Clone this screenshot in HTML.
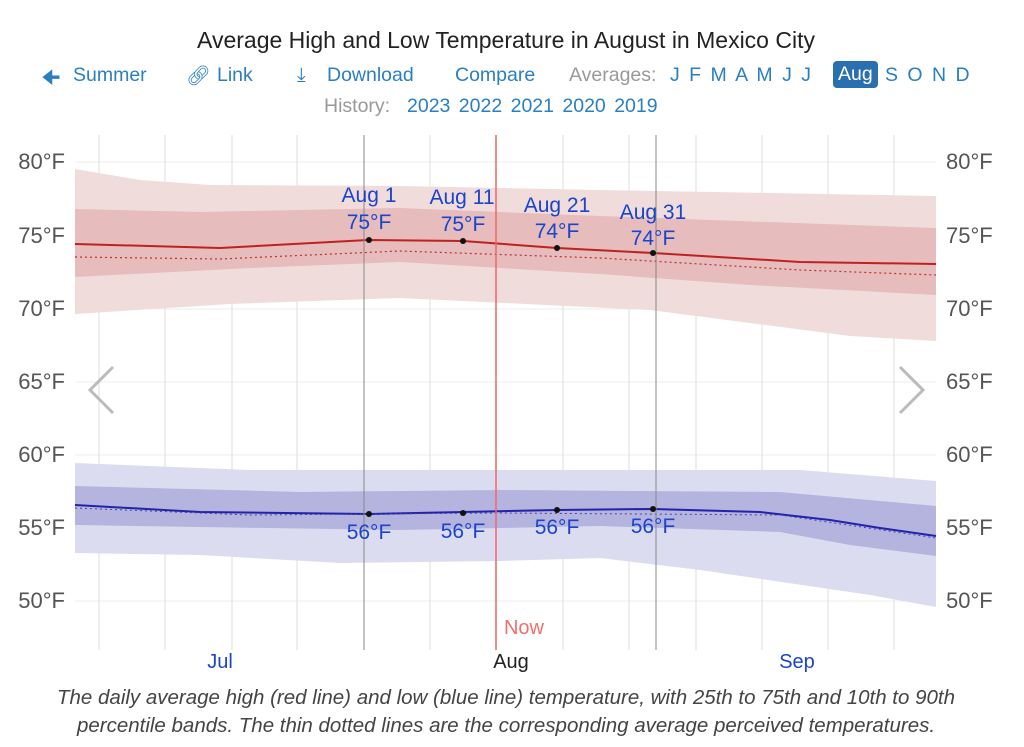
<!DOCTYPE html>
<html><head><meta charset="utf-8"><style>
body{margin:0;width:1024px;height:747px;background:#fff;font-family:"Liberation Sans",sans-serif;overflow:hidden;position:relative}
.t{position:absolute;white-space:nowrap}
.b{color:#2a7fc0;font-size:19.5px;top:64px}
</style></head><body>
<div class="t" style="left:0;width:1012px;text-align:center;top:27px;font-size:23px;color:#222">Average High and Low Temperature in August in Mexico City</div>
<div class="t b" style="left:42px"><b>&#129032;</b></div>
<div class="t b" style="left:73px">Summer</div>
<div class="t b" style="left:186px">&#x1F517;&#xFE0E;</div>
<div class="t b" style="left:217px">Link</div>
<div class="t b" style="left:297px">&#x2913;</div>
<div class="t b" style="left:327px">Download</div>
<div class="t b" style="left:455px">Compare</div>
<div class="t b" style="left:569px;color:#999">Averages:</div>
<div class="t b" style="left:670px;word-spacing:4px">J F M A M J J</div>
<div class="t" style="top:61px;left:833px;font-size:19.5px;color:#fff;background:#2a6fb0;border-radius:4px;padding:2px 5px">Aug</div>
<div class="t b" style="left:885px;word-spacing:4px">S O N D</div>
<div class="t" style="top:95px;left:324px;font-size:19.5px;color:#999">History:</div>
<div class="t" style="top:95px;left:407px;font-size:19.5px;color:#2a7fc0;word-spacing:3px">2023 2022 2021 2020 2019</div>
<svg width="1024" height="747" style="position:absolute;left:0;top:0">
<g stroke="#eee" stroke-width="1">
<line x1="75" x2="936" y1="162" y2="162"/><line x1="75" x2="936" y1="236" y2="236"/><line x1="75" x2="936" y1="309" y2="309"/><line x1="75" x2="936" y1="382" y2="382"/><line x1="75" x2="936" y1="455" y2="455"/><line x1="75" x2="936" y1="528" y2="528"/><line x1="75" x2="936" y1="601" y2="601"/>
</g>
<g stroke="#ddd"><line x1="99" x2="99" y1="135" y2="650"/><line x1="165" x2="165" y1="135" y2="650"/><line x1="232" x2="232" y1="135" y2="650"/><line x1="297" x2="297" y1="135" y2="650"/><line x1="430" x2="430" y1="135" y2="650"/><line x1="563" x2="563" y1="135" y2="650"/><line x1="629" x2="629" y1="135" y2="650"/><line x1="696" x2="696" y1="135" y2="650"/><line x1="762" x2="762" y1="135" y2="650"/><line x1="828" x2="828" y1="135" y2="650"/><line x1="894" x2="894" y1="135" y2="650"/></g>
<path d="M75,169 L140,180 L210,185 L400,186 L600,190 L936,196 L936,341 L850,336 L650,310 L400,298 L230,304 L75,314Z" fill="#f1dcdc"/>
<path d="M75,209 L200,212 L400,208 L600,216 L936,228 L936,295 L750,285 L600,274 L400,262 L250,268 L75,277Z" fill="#e6bcbc"/>
<path d="M75,244 L220,248 L368,240 L463,241 L557,248 L653,253 L800,262 L936,264" fill="none" stroke="#c02020" stroke-width="2"/>
<path d="M75,257 L220,259 L400,251 L600,258 L800,270 L936,275" fill="none" stroke="#c03030" stroke-width="1.2" stroke-dasharray="2,3"/>
<path d="M75,463 L250,470 L450,470 L800,470 L936,481 L936,607 L870,595 L700,570 L600,558 L500,561 L340,563 L200,555 L75,553Z" fill="#dcdcf0" />
<path d="M75,486 L300,492 L500,490 L780,492 L936,506 L936,556 L850,545 L780,532 L600,526 L400,530 L200,527 L75,525Z" fill="#b4b4de"/>
<path d="M75,505 L200,512 L369,514 L463,512 L557,510 L653,509 L760,512 L830,520 L880,528 L936,536" fill="none" stroke="#2222aa" stroke-width="2"/>
<path d="M75,508 L250,515 L500,513 L780,515 L936,538" fill="none" stroke="#4444aa" stroke-width="1" stroke-dasharray="2,3"/>
<line x1="364" x2="364" y1="135" y2="650" stroke="#888"/><line x1="656" x2="656" y1="135" y2="650" stroke="#888"/>
<line x1="496" x2="496" y1="135" y2="650" stroke="#e66" stroke-width="1.5"/>
<g fill="#111"><circle cx="369" cy="240" r="3"/><circle cx="463" cy="241" r="3"/><circle cx="557" cy="248" r="3"/><circle cx="653" cy="253" r="3"/><circle cx="369" cy="514" r="3"/><circle cx="463" cy="513" r="3"/><circle cx="557" cy="510" r="3"/><circle cx="653" cy="509" r="3"/></g>
<g font-size="21" fill="#1a44cc" text-anchor="middle" font-family="Liberation Sans">
<text x="369" y="202">Aug 1</text><text x="369" y="229">75°F</text>
<text x="462" y="204">Aug 11</text><text x="463" y="231">75°F</text>
<text x="557" y="212">Aug 21</text><text x="557" y="238">74°F</text>
<text x="653" y="219">Aug 31</text><text x="653" y="245">74°F</text>
<text x="369" y="539">56°F</text><text x="463" y="538">56°F</text><text x="557" y="534">56°F</text><text x="653" y="533">56°F</text>
<text x="220" y="668" font-size="20">Jul</text><text x="797" y="668" font-size="20">Sep</text>
</g>
<text x="511" y="668" font-size="20" fill="#222" text-anchor="middle">Aug</text>
<text x="524" y="634" font-size="20" fill="#f07070" text-anchor="middle">Now</text>
<g font-size="22" fill="#555"><g text-anchor="end">
<text x="65" y="169">80°F</text><text x="65" y="243">75°F</text><text x="65" y="316">70°F</text><text x="65" y="389">65°F</text><text x="65" y="462">60°F</text><text x="65" y="535">55°F</text><text x="65" y="608">50°F</text></g>
<text x="946" y="169">80°F</text><text x="946" y="243">75°F</text><text x="946" y="316">70°F</text><text x="946" y="389">65°F</text><text x="946" y="462">60°F</text><text x="946" y="535">55°F</text><text x="946" y="608">50°F</text></g>
<path d="M113,367 L90,390 L113,413" fill="none" stroke="#bbb" stroke-width="3"/>
<path d="M900,367 L923,390 L900,413" fill="none" stroke="#bbb" stroke-width="3"/>
</svg>
<div class="t" style="left:0;width:1012px;text-align:center;top:684px;font-size:20.5px;font-style:italic;color:#444;line-height:28px">The daily average high (red line) and low (blue line) temperature, with 25th to 75th and 10th to 90th<br>percentile bands. The thin dotted lines are the corresponding average perceived temperatures.</div>
</body></html>
